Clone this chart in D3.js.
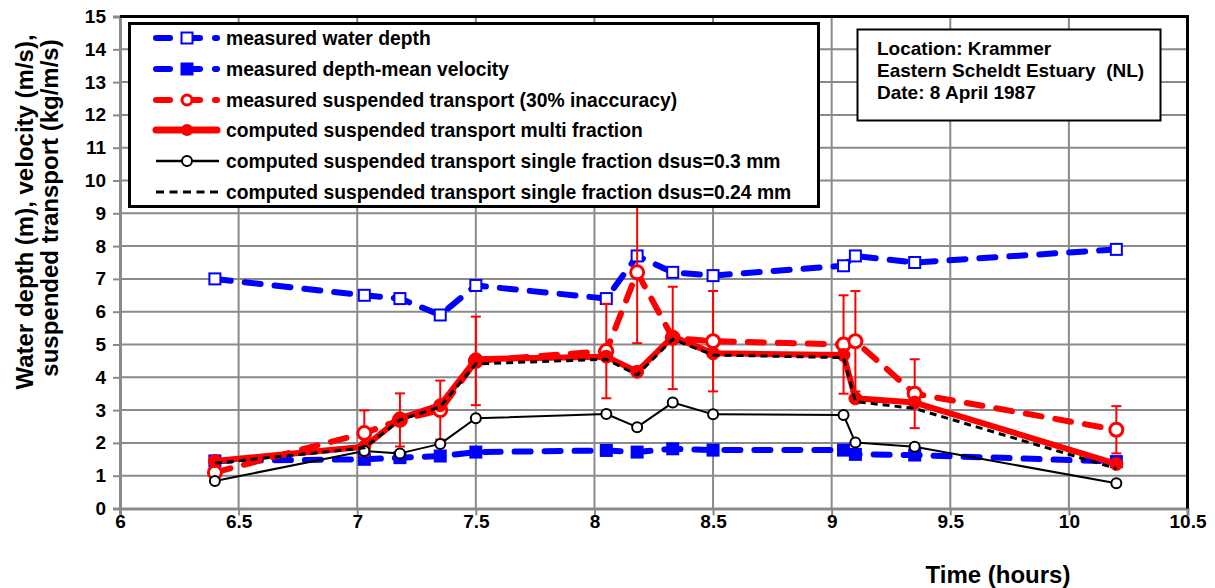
<!DOCTYPE html>
<html><head><meta charset="utf-8">
<script src="https://cdn.jsdelivr.net/npm/d3@7"></script>
<style>
body{margin:0;background:#fff}
text{font-family:"Liberation Sans",Arial,sans-serif;font-weight:bold;fill:#000}
</style>
</head><body><svg id="c" width="1215" height="588"></svg>
<script>
// ---- data ----
const time = [6.4, 7.03, 7.18, 7.35, 7.5, 8.05, 8.18, 8.33, 8.5, 9.05, 9.1, 9.35, 10.2];
const waterDepth = [7.0, 6.5, 6.4, 5.9, 6.8, 6.4, 7.7, 7.2, 7.1, 7.4, 7.7, 7.5, 7.9];
const velocity = [1.45, 1.5, 1.55, 1.6, 1.72, 1.77, 1.72, 1.82, 1.78, 1.78, 1.65, 1.63, 1.43];
const measuredTransport = [1.1, 2.3, 2.7, 3.0, 4.5, 4.8, 7.2, 5.2, 5.1, 5.0, 5.1, 3.5, 2.4];
const multiFraction = [1.45, 1.88, 2.75, 3.15, 4.55, 4.63, 4.17, 5.24, 4.73, 4.68, 3.36, 3.23, 1.36];
const single030 = [0.84, 1.75, 1.68, 1.97, 2.75, 2.88, 2.48, 3.23, 2.87, 2.85, 2.01, 1.88, 0.77];
const single024 = [1.38, 1.85, 2.7, 3.1, 4.41, 4.55, 4.07, 5.16, 4.68, 4.6, 3.26, 3.05, 1.22];
const inaccuracy = 0.3;
const xTicks = [6, 6.5, 7, 7.5, 8, 8.5, 9, 9.5, 10, 10.5];
const yTicks = [0,1,2,3,4,5,6,7,8,9,10,11,12,13,14,15];
const legendLabels = [
  "measured water depth",
  "measured depth-mean velocity",
  "measured suspended transport (30% inaccuracy)",
  "computed suspended transport multi fraction",
  "computed suspended transport single fraction dsus=0.3 mm",
  "computed suspended transport single fraction dsus=0.24 mm"
];
const infoLines = ["Location: Krammer", "Eastern Scheldt Estuary  (NL)", "Date: 8 April 1987"];

// ---- layout ----
const L = 120, R = 1187.5, T = 16.5, B = 508.5;
const svg = d3.select("#c");
const x = d3.scaleLinear().domain([6, 10.5]).range([L, R]);
const y = d3.scaleLinear().domain([0, 15]).range([B, T]);
const grid = "#8a8a8a";

function addText(parent, tx, ty, str, size, anchor, rot) {
  return parent.append("text")
    .attr("transform", `translate(${tx},${ty})` + (rot ? ` rotate(${rot})` : ""))
    .attr("text-anchor", anchor || "start").attr("font-size", size)
    .style("white-space", "pre").text(str);
}

// grid
svg.append("g").selectAll("line").data(xTicks.slice(1, -1)).join("line")
  .attr("x1", d => x(d)).attr("x2", d => x(d)).attr("y1", T).attr("y2", B)
  .attr("stroke", grid).attr("stroke-width", 2);
svg.append("g").selectAll("line").data(yTicks.slice(1, -1)).join("line")
  .attr("x1", L).attr("x2", R).attr("y1", d => y(d)).attr("y2", d => y(d))
  .attr("stroke", grid).attr("stroke-width", 2);

// axes
const yAxis = d3.axisLeft(y).tickValues(yTicks).tickSize(7).tickPadding(7).tickFormat(d3.format("d"));
const gy = svg.append("g").attr("transform", `translate(${L},0)`).call(yAxis);
const xAxis = d3.axisBottom(x).tickValues(xTicks).tickSize(7).tickPadding(0).tickFormat(d => String(d));
const gx = svg.append("g").attr("transform", `translate(0,${B})`).call(xAxis);
[gx, gy].forEach(g => {
  g.select(".domain").attr("stroke", grid).attr("stroke-width", 3);
  g.selectAll(".tick line").attr("stroke", grid).attr("stroke-width", 2);
  g.selectAll(".tick text").attr("font-size", 19).attr("font-family", '"Liberation Sans",Arial,sans-serif')
    .attr("font-weight", "bold").attr("fill", "#000");
});
gy.selectAll(".tick text").attr("x", -14);
gx.selectAll(".tick text").attr("y", 6);
// black top and right border
svg.append("path").attr("d", `M${L},${T}H${R}V${B}`).attr("fill", "none").attr("stroke", "#000").attr("stroke-width", 3);

// axis titles
addText(svg, 33, 212, "Water depth (m), velocity (m/s),", 24, "middle", -90);
addText(svg, 57.5, 208, "suspended transport (kg/m/s)", 24, "middle", -90);
addText(svg, 998, 583, "Time (hours)", 24, "middle");

const pts = arr => time.map((t, i) => [t, arr[i]]);
const line = d3.line().x(d => x(d[0])).y(d => y(d[1]));
const plot = svg.append("g");

const blueDash = {stroke: "#0000ff", width: 6, dash: "16,14", cap: "round"};
function drawLine(data, st) {
  plot.append("path").attr("d", line(data)).attr("fill", "none")
    .attr("stroke", st.stroke).attr("stroke-width", st.width)
    .attr("stroke-dasharray", st.dash || null).attr("stroke-linecap", st.cap || "butt")
    .attr("stroke-linejoin", "round");
}
function squares(data, fill) {
  plot.append("g").selectAll("rect").data(data).join("rect")
    .attr("x", d => x(d[0]) - 5.5).attr("y", d => y(d[1]) - 5.5).attr("width", 11).attr("height", 11)
    .attr("fill", fill).attr("stroke", "#0000ff").attr("stroke-width", 2);
}
function circles(data, r, fill, stroke, sw) {
  plot.append("g").selectAll("circle").data(data).join("circle")
    .attr("cx", d => x(d[0])).attr("cy", d => y(d[1])).attr("r", r)
    .attr("fill", fill).attr("stroke", stroke).attr("stroke-width", sw);
}

// water depth
drawLine(pts(waterDepth), blueDash);
squares(pts(waterDepth), "#fff");
// velocity
drawLine(pts(velocity), blueDash);
squares(pts(velocity), "#0000ff");
// measured transport with error bars
drawLine(pts(measuredTransport), {stroke: "#ff0000", width: 6, dash: "16,14", cap: "round"});
const eb = plot.append("g").attr("stroke", "#ff0000").attr("stroke-width", 2);
pts(measuredTransport).forEach(d => {
  const lo = y(d[1] * (1 - inaccuracy)), hi = y(d[1] * (1 + inaccuracy)), cx = x(d[0]);
  eb.append("line").attr("x1", cx).attr("x2", cx).attr("y1", lo).attr("y2", hi);
  eb.append("line").attr("x1", cx - 5).attr("x2", cx + 5).attr("y1", lo).attr("y2", lo);
  eb.append("line").attr("x1", cx - 5).attr("x2", cx + 5).attr("y1", hi).attr("y2", hi);
});
circles(pts(measuredTransport), 6.5, "#fff", "#ff0000", 3);
// multi fraction
drawLine(pts(multiFraction), {stroke: "#ff0000", width: 6});
circles(pts(multiFraction), 6.5, "#ff0000", "#ff0000", 1);
// single 0.3
drawLine(pts(single030), {stroke: "#000", width: 2});
circles(pts(single030), 5, "#fff", "#000", 2);
// single 0.24
drawLine(pts(single024), {stroke: "#000", width: 3, dash: "7,5"});

// legend
const lg = svg.append("g");
lg.append("rect").attr("x", 129.5).attr("y", 23.5).attr("width", 689).attr("height", 183)
  .attr("fill", "#fff").attr("stroke", "#000").attr("stroke-width", 3);
const rowY = [38, 69, 100, 130, 161, 192];
const lm = 187;
function legLine(yy, x1, x2, st) {
  lg.append("line").attr("x1", x1).attr("x2", x2).attr("y1", yy).attr("y2", yy)
    .attr("stroke", st.stroke).attr("stroke-width", st.width)
    .attr("stroke-dasharray", st.dash || null).attr("stroke-linecap", st.cap || "butt");
}
const legDash = "14,15,15,15,2,50";
legLine(rowY[0], 156, 217, {stroke: "#0000ff", width: 6, dash: legDash, cap: "round"});
lg.append("rect").attr("x", lm - 5.5).attr("y", rowY[0] - 5.5).attr("width", 11).attr("height", 11).attr("fill", "#fff").attr("stroke", "#0000ff").attr("stroke-width", 2);
legLine(rowY[1], 156, 217, {stroke: "#0000ff", width: 6, dash: legDash, cap: "round"});
lg.append("rect").attr("x", lm - 5.5).attr("y", rowY[1] - 5.5).attr("width", 11).attr("height", 11).attr("fill", "#0000ff").attr("stroke", "#0000ff").attr("stroke-width", 2);
legLine(rowY[2], 156, 217, {stroke: "#ff0000", width: 6, dash: legDash, cap: "round"});
lg.append("circle").attr("cx", lm).attr("cy", rowY[2]).attr("r", 5).attr("fill", "#fff").attr("stroke", "#ff0000").attr("stroke-width", 3);
legLine(rowY[3], 156, 217, {stroke: "#ff0000", width: 7, cap: "round"});
lg.append("circle").attr("cx", lm).attr("cy", rowY[3]).attr("r", 6).attr("fill", "#ff0000");
legLine(rowY[4], 156, 219, {stroke: "#000", width: 2.5});
lg.append("circle").attr("cx", lm).attr("cy", rowY[4]).attr("r", 5).attr("fill", "#fff").attr("stroke", "#000").attr("stroke-width", 2);
legLine(rowY[5], 156, 219, {stroke: "#000", width: 3, dash: "8,5.5"});
legendLabels.forEach((s, i) => addText(lg, 226, rowY[i] + 7, s, 19.3, "start"));

// info box
const ib = svg.append("g");
ib.append("rect").attr("x", 857.5).attr("y", 29.5).attr("width", 303).attr("height", 91)
  .attr("fill", "#fff").attr("stroke", "#000").attr("stroke-width", 2);
infoLines.forEach((s, i) => addText(ib, 877, 55 + i * 22, s, 19, "start"));
</script>
</body></html>
